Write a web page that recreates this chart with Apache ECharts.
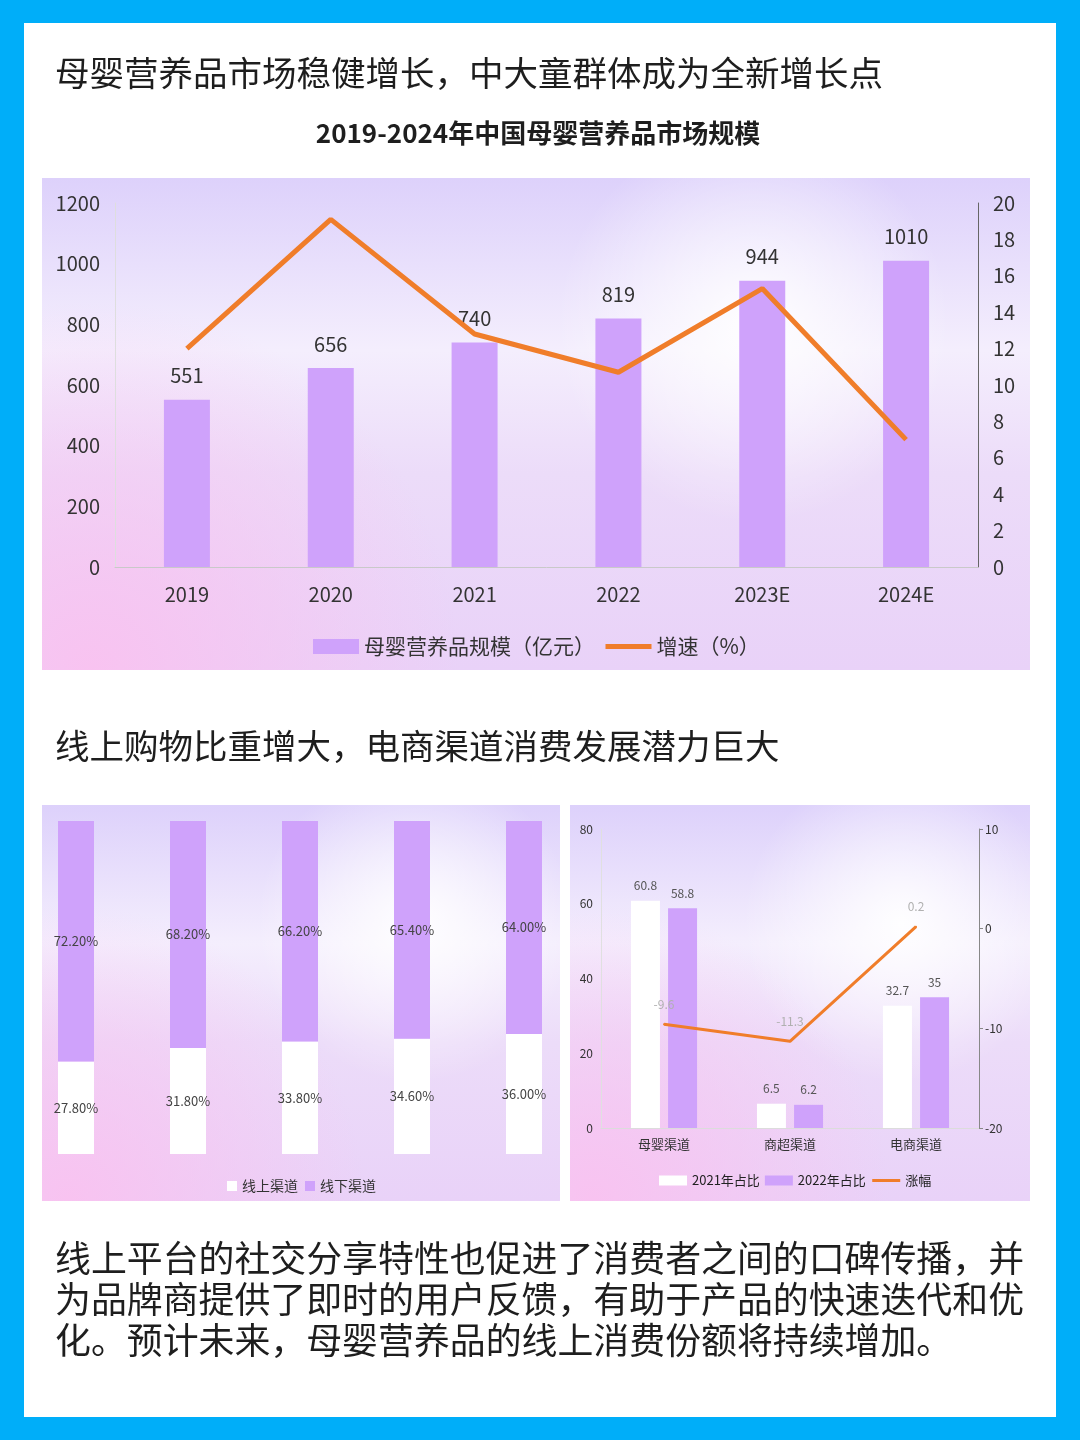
<!DOCTYPE html>
<html>
<head>
<meta charset="utf-8">
<script src="https://cdn.jsdelivr.net/npm/echarts@6/dist/echarts.min.js"></script>
<style>
html, body { margin: 0; padding: 0; background: #00aef9; }
#main { width: 1080px; height: 1440px; }
</style>
</head>
<body>
<div id="main"></div>
<script>
// 市场规模
var years = ['2019', '2020', '2021', '2022', '2023E', '2024E'];
var marketSize = [551, 656, 740, 819, 944, 1010];
var growthRate = [12.0, 19.1, 12.8, 10.7, 15.3, 7.0];

// 线上/线下占比（分类未在图中显示）
var sharePeriods = ['1', '2', '3', '4', '5'];
var onlineShare = [27.8, 31.8, 33.8, 34.6, 36.0];
var offlineShare = [72.2, 68.2, 66.2, 65.4, 64.0];

// 渠道占比
var channels = ['母婴渠道', '商超渠道', '电商渠道'];
var share2021 = [60.8, 6.5, 32.7];
var share2022 = [58.8, 6.2, 35];
var shareChange = [-9.6, -11.3, 0.2];

var PURPLE = '#cfa2fb';
var ORANGE = '#f07d2a';
var CJK = '"Noto Sans CJK SC", "Noto Sans", sans-serif';

var myChart = echarts.init(document.getElementById('main'));

function panel(x, y, w, h) {
  return [
    { type: 'rect', z: -10, shape: { x: x, y: y, width: w, height: h },
      style: { fill: new echarts.graphic.LinearGradient(0, 0, 0, 1, [
        { offset: 0, color: '#ddd1fb' },
        { offset: 0.35, color: '#f4eefd' },
        { offset: 0.6, color: '#ecdcf9' },
        { offset: 1, color: '#e9d2f8' }
      ]) } },
    { type: 'rect', z: -9, shape: { x: x, y: y, width: w, height: h },
      style: { fill: new echarts.graphic.RadialGradient(0.05, 1, 0.75, [
        { offset: 0, color: 'rgba(249,194,240,0.95)' },
        { offset: 1, color: 'rgba(249,194,240,0)' }
      ]) } },
    { type: 'rect', z: -8, shape: { x: x, y: y, width: w, height: h },
      style: { fill: new echarts.graphic.RadialGradient(0.72, 0.3, 0.4, [
        { offset: 0, color: 'rgba(255,255,255,0.95)' },
        { offset: 1, color: 'rgba(255,255,255,0)' }
      ]) } }
  ];
}

function text(x, y, str, size, weight, align) {
  return {
    type: 'text', z: 5, x: x, y: y,
    style: {
      text: str, fill: '#1e1e1e', fontSize: size, fontFamily: CJK,
      fontWeight: weight || 'normal',
      textAlign: align || 'left', align: align || 'left',
      textVerticalAlign: 'middle', verticalAlign: 'middle'
    }
  };
}

var graphics = [
  { type: 'rect', z: -20, shape: { x: 24, y: 23, width: 1032, height: 1394 }, style: { fill: '#ffffff' } }
]
  .concat(panel(42, 178, 988, 492))
  .concat(panel(42, 805, 518, 396))
  .concat(panel(570, 805, 460, 396))
  .concat([
    text(55, 73, '母婴营养品市场稳健增长，中大童群体成为全新增长点', 34.5),
    text(538, 133, '2019-2024年中国母婴营养品市场规模', 26, 'bold', 'center'),
    text(55, 746, '线上购物比重增大，电商渠道消费发展潜力巨大', 34.5),
    text(55, 1258, '线上平台的社交分享特性也促进了消费者之间的口碑传播，并', 35.9),
    text(55, 1299, '为品牌商提供了即时的用户反馈，有助于产品的快速迭代和优', 35.9),
    text(55, 1340, '化。预计未来，母婴营养品的线上消费份额将持续增加。', 35.9)
  ]);

function lineLegendItem(name, w) {
  return { name: name, itemStyle: { opacity: 0 }, lineStyle: { width: w, color: ORANGE } };
}

var option = {
  backgroundColor: '#00aef9',
  animation: false,
  textStyle: { fontFamily: CJK },
  graphic: graphics,
  grid: [
    { left: 115, right: 102, top: 203, bottom: 873 },
    { left: 20, width: 560, top: 821, bottom: 286 },
    { left: 601, right: 101, top: 829, bottom: 312 }
  ],
  legend: [
    {
      left: 308, top: 631, itemWidth: 46, itemHeight: 15, itemGap: 8,
      textStyle: { fontSize: 21, color: '#333' },
      data: [{ name: '母婴营养品规模（亿元）', icon: 'rect' }, lineLegendItem('增速（%）', 5)]
    },
    {
      left: 222, top: 1174, itemWidth: 10, itemHeight: 10, itemGap: 7,
      textStyle: { fontSize: 14, color: '#333' },
      data: [{ name: '线上渠道', icon: 'rect' }, { name: '线下渠道', icon: 'rect' }]
    },
    {
      left: 654, top: 1169, itemWidth: 28, itemHeight: 10, itemGap: 5,
      textStyle: { fontSize: 13, color: '#222' },
      data: [{ name: '2021年占比', icon: 'rect' }, { name: '2022年占比', icon: 'rect' }, lineLegendItem('涨幅', 3)]
    }
  ],
  xAxis: [
    {
      gridIndex: 0, type: 'category', data: years,
      axisLine: { lineStyle: { color: '#c9c9c9' } }, axisTick: { show: false },
      axisLabel: { fontSize: 20, color: '#333', margin: 17 }
    },
    { gridIndex: 1, type: 'category', data: sharePeriods, show: false },
    {
      gridIndex: 2, type: 'category', data: channels,
      axisLine: { lineStyle: { color: '#dcdcdc' } }, axisTick: { show: false },
      axisLabel: { fontSize: 13, color: '#333', margin: 10 }
    }
  ],
  yAxis: [
    {
      gridIndex: 0, min: 0, max: 1200, interval: 200, splitLine: { show: false },
      axisLine: { show: true, lineStyle: { color: '#dedede' } },
      axisLabel: { fontSize: 20, color: '#333', margin: 15,
        formatter: function (v) { return String(v); } }
    },
    {
      gridIndex: 0, position: 'right', min: 0, max: 20, interval: 2, splitLine: { show: false },
      axisLine: { show: true, lineStyle: { color: '#666' } },
      axisLabel: { fontSize: 20, color: '#333', margin: 15 }
    },
    { gridIndex: 1, min: 0, max: 100, show: false },
    {
      gridIndex: 2, min: 0, max: 80, interval: 20, splitLine: { show: false },
      axisLine: { show: true, lineStyle: { color: '#e0e0e0' } },
      axisLabel: { fontSize: 12, color: '#333', margin: 8 }
    },
    {
      gridIndex: 2, position: 'right', min: -20, max: 10, interval: 10, splitLine: { show: false },
      axisLine: { show: true, lineStyle: { color: '#888' } },
      axisTick: { show: true, length: 4, lineStyle: { color: '#888' } },
      axisLabel: { fontSize: 12, color: '#333', margin: 6 }
    }
  ],
  series: [
    {
      name: '母婴营养品规模（亿元）', type: 'bar', xAxisIndex: 0, yAxisIndex: 0,
      data: marketSize, barWidth: 46, itemStyle: { color: PURPLE },
      label: { show: true, position: 'top', distance: 14, fontSize: 20, color: '#333' }
    },
    {
      name: '增速（%）', type: 'line', xAxisIndex: 0, yAxisIndex: 1,
      data: growthRate, symbol: 'none', z: 5,
      lineStyle: { width: 5, color: ORANGE }, itemStyle: { color: ORANGE }
    },
    {
      name: '线上渠道', type: 'bar', stack: 'share', xAxisIndex: 1, yAxisIndex: 2,
      data: onlineShare, barWidth: 36, itemStyle: { color: '#ffffff' },
      label: { show: true, position: 'inside', fontSize: 13, color: '#444',
        formatter: function (p) { return p.value.toFixed(2) + '%'; } }
    },
    {
      name: '线下渠道', type: 'bar', stack: 'share', xAxisIndex: 1, yAxisIndex: 2,
      data: offlineShare, barWidth: 36, itemStyle: { color: PURPLE },
      label: { show: true, position: 'inside', fontSize: 13, color: '#444',
        formatter: function (p) { return p.value.toFixed(2) + '%'; } }
    },
    {
      name: '2021年占比', type: 'bar', xAxisIndex: 2, yAxisIndex: 3,
      data: share2021, barWidth: 29, barGap: '28%', itemStyle: { color: '#ffffff' },
      label: { show: true, position: 'top', distance: 9, fontSize: 12, color: '#555' }
    },
    {
      name: '2022年占比', type: 'bar', xAxisIndex: 2, yAxisIndex: 3,
      data: share2022, barWidth: 29, itemStyle: { color: PURPLE },
      label: { show: true, position: 'top', distance: 9, fontSize: 12, color: '#555' }
    },
    {
      name: '涨幅', type: 'line', xAxisIndex: 2, yAxisIndex: 4,
      data: shareChange, symbol: 'circle', symbolSize: 2, z: 5,
      lineStyle: { width: 3, color: ORANGE }, itemStyle: { color: ORANGE },
      label: { show: true, position: 'top', distance: 13, fontSize: 12, color: '#b0b0b0' }
    }
  ]
};

myChart.setOption(option);
</script>
</body>
</html>
